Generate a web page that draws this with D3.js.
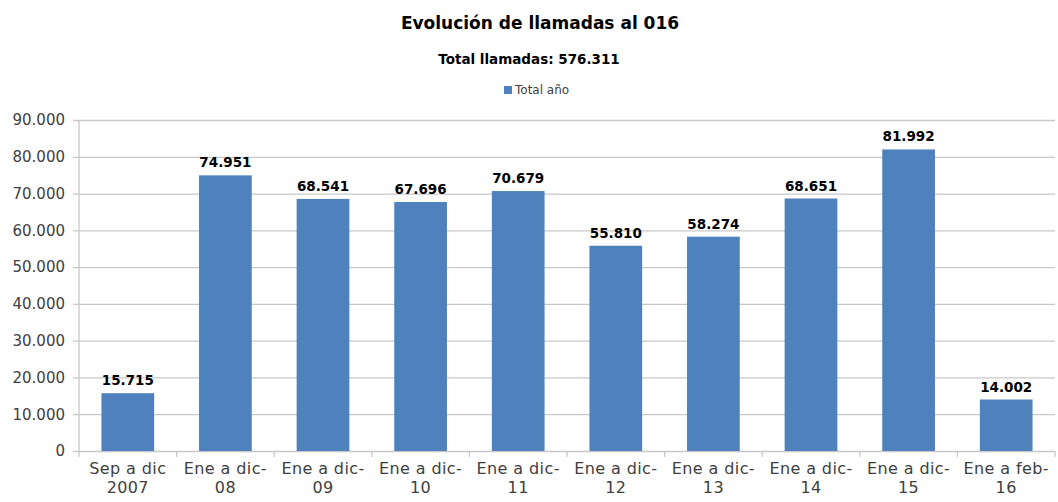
<html>
<head>
  <meta charset="utf-8">
  <title>Evolución de llamadas al 016</title>
  <script src="https://d3js.org/d3.v7.min.js"></script>
  <style>
    body { margin: 0; background: #fff; }
    text { font-family: "DejaVu Sans", sans-serif; }
  </style>
</head>
<body>
<script>
var categories = [["Sep a dic", "2007"], ["Ene a dic-", "08"], ["Ene a dic-", "09"], ["Ene a dic-", "10"],
  ["Ene a dic-", "11"], ["Ene a dic-", "12"], ["Ene a dic-", "13"], ["Ene a dic-", "14"],
  ["Ene a dic-", "15"], ["Ene a feb-", "16"]];
var values = [15715, 74951, 68541, 67696, 70679, 55810, 58274, 68651, 81992, 14002];
var yTicks = [0, 10000, 20000, 30000, 40000, 50000, 60000, 70000, 80000, 90000];

var width = 1058, height = 502;
var margin = {left: 79, right: 3, top: 120, bottom: 51};

var fmt = function(v) { return d3.format(",")(v).replace(/,/g, "."); };

var svg = d3.select("body").append("svg")
  .attr("width", width)
  .attr("height", height);

var x = d3.scaleBand()
  .domain(d3.range(values.length))
  .range([margin.left, width - margin.right])
  .paddingInner(0.46)
  .paddingOuter(0.23);

var y = d3.scaleLinear()
  .domain([0, 90000])
  .range([height - margin.bottom, margin.top]);

// titles
svg.append("text").attr("x", 540).attr("y", 29).attr("text-anchor", "middle")
  .style("font-size", "17px").style("font-weight", "bold").attr("fill", "#000")
  .text("Evolución de llamadas al 016");
svg.append("text").attr("x", 529).attr("y", 64).attr("text-anchor", "middle")
  .style("font-size", "13.5px").style("font-weight", "bold").attr("fill", "#000")
  .text("Total llamadas: 576.311");

// legend
svg.append("rect").attr("x", 504).attr("y", 86).attr("width", 8).attr("height", 8).attr("fill", "#4F81BD");
svg.append("text").attr("x", 515).attr("y", 94).style("font-size", "12px").attr("fill", "#404040")
  .text("Total año");

// grid + y axis
var yAxis = d3.axisLeft(y).tickValues(yTicks).tickFormat(fmt).tickSize(-(width - margin.left - margin.right)).tickPadding(14);
var gy = svg.append("g").attr("transform", "translate(" + margin.left + ",0)").call(yAxis);
gy.select(".domain").remove();
gy.selectAll(".tick line").attr("stroke", "#c8c8c8").attr("stroke-width", 1.3).attr("x1", -6);
gy.selectAll(".tick text").style("font-size", "15px").attr("fill", "#404040");

svg.append("line").attr("x1", margin.left).attr("x2", margin.left)
  .attr("y1", y(90000)).attr("y2", y(0)).attr("stroke", "#c8c8c8").attr("stroke-width", 1.3);

// x tick marks between categories
var edges = d3.range(values.length + 1).map(function(i) { return margin.left + i * (width - margin.left - margin.right) / values.length; });
svg.append("g").selectAll("line").data(edges).enter().append("line")
  .attr("x1", function(d) { return d; }).attr("x2", function(d) { return d; })
  .attr("y1", y(0)).attr("y2", y(0) + 6)
  .attr("stroke", "#c8c8c8").attr("stroke-width", 1.3);

// bars
svg.append("g").selectAll("rect").data(values).enter().append("rect")
  .attr("x", function(d, i) { return x(i); })
  .attr("y", function(d) { return y(d); })
  .attr("width", x.bandwidth())
  .attr("height", function(d) { return y(0) - y(d); })
  .attr("fill", "#4F81BD");

// value labels
svg.append("g").selectAll("text").data(values).enter().append("text")
  .attr("x", function(d, i) { return x(i) + x.bandwidth() / 2; })
  .attr("y", function(d) { return y(d) - 8; })
  .attr("text-anchor", "middle")
  .style("font-size", "13.5px").style("font-weight", "bold").attr("fill", "#000")
  .text(fmt);

// category labels
var cat = svg.append("g").selectAll("text").data(categories).enter().append("text")
  .attr("x", function(d, i) { return x(i) + x.bandwidth() / 2; })
  .attr("y", 474)
  .attr("text-anchor", "middle")
  .style("font-size", "16px").style("letter-spacing", "0.4px").attr("fill", "#404040");
cat.append("tspan").text(function(d) { return d[0]; });
cat.append("tspan").attr("x", function(d, i) { return x(i) + x.bandwidth() / 2; }).attr("dy", 19)
  .text(function(d) { return d[1]; });
</script>
</body>
</html>
